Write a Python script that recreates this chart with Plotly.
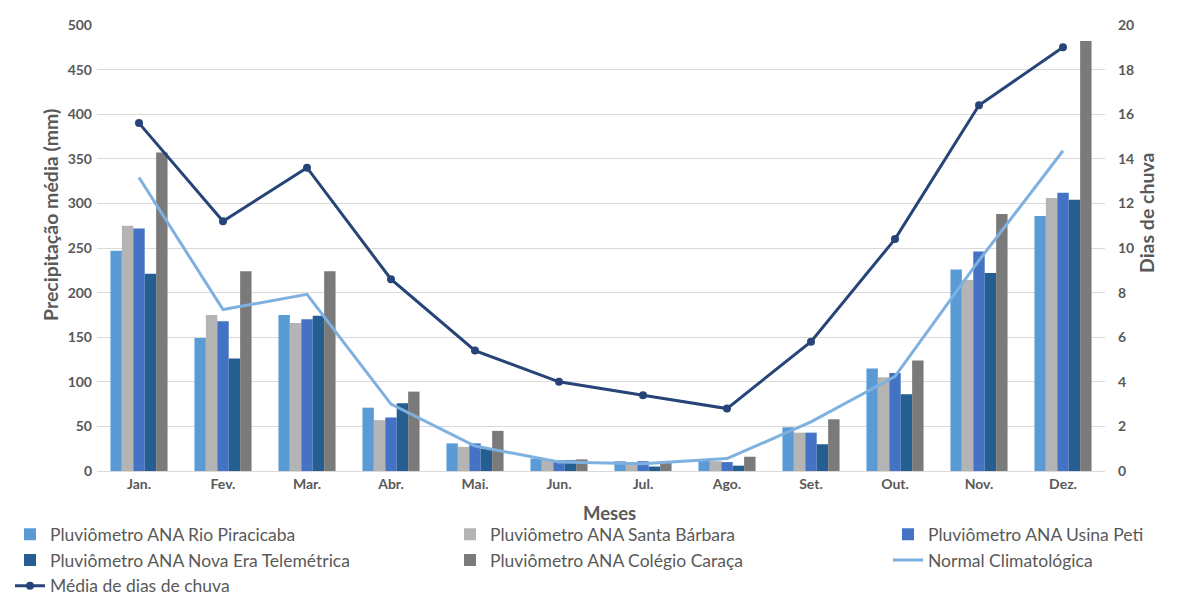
import plotly.graph_objects as go

months = ["Jan.", "Fev.", "Mar.", "Abr.", "Mai.", "Jun.", "Jul.", "Ago.", "Set.", "Out.", "Nov.", "Dez."]

rio_piracicaba = [247, 149, 175, 71, 31, 14, 11, 12, 49, 115, 226, 286]
santa_barbara = [275, 175, 166, 57, 27, 13, 10, 11, 43, 105, 214, 306]
usina_peti = [272, 168, 170, 60, 31, 12, 11, 10, 43, 110, 246, 312]
nova_era = [221, 126, 174, 76, 25, 12, 5, 6, 30, 86, 222, 304]
colegio_caraca = [357, 224, 224, 89, 45, 13, 9, 16, 58, 124, 288, 482]
normal_climatologica = [329, 181, 198, 75, 28, 10, 8, 14, 55, 106, 236, 359]
media_dias_chuva = [15.6, 11.2, 13.6, 8.6, 5.4, 4.0, 3.4, 2.8, 5.8, 10.4, 16.4, 19.0]

FONT = "Lato"
GRAY = "#595959"

fig = go.Figure()

bar_series = [
    ("Pluviômetro ANA Rio Piracicaba", rio_piracicaba, "#5B9BD5", "legend"),
    ("Pluviômetro ANA Santa Bárbara", santa_barbara, "#B4B4B4", "legend2"),
    ("Pluviômetro ANA Usina Peti", usina_peti, "#4472C4", "legend3"),
    ("Pluviômetro ANA Nova Era Telemétrica", nova_era, "#255E91", "legend"),
    ("Pluviômetro ANA Colégio Caraça", colegio_caraca, "#7A7A7A", "legend2"),
]
for name, vals, color, lg in bar_series:
    fig.add_trace(go.Bar(x=months, y=vals, name=name, marker=dict(color=color, line=dict(width=0)),
                         legend=lg, yaxis="y"))

fig.add_trace(go.Scatter(x=months, y=normal_climatologica, name="Normal Climatológica", mode="lines",
                         line=dict(color="#7EB1E0", width=3), legend="legend3", yaxis="y"))
fig.add_trace(go.Scatter(x=months, y=media_dias_chuva, name="Média de dias de chuva", mode="lines+markers",
                         line=dict(color="#264478", width=3), marker=dict(size=8, color="#264478"),
                         legend="legend", yaxis="y2"))

legend_common = dict(orientation="v", xanchor="left", yanchor="top", y=-0.1015,
                     font=dict(family=FONT, size=17.5, color=GRAY), bgcolor="rgba(0,0,0,0)",
                     itemwidth=30, tracegroupgap=0)

title_font = dict(family=FONT, size=19.5, color=GRAY)

fig.update_layout(
    width=1187, height=597,
    margin=dict(l=97, r=82, t=25, b=126, autoexpand=False),
    paper_bgcolor="white", plot_bgcolor="white",
    barmode="group", bargap=0.32, bargroupgap=0,
    font=dict(family=FONT, color=GRAY),
    xaxis=dict(range=[-0.5, 11.5], showgrid=False, showline=True, linecolor="#D9D9D9", linewidth=1,
               tickfont=dict(family=FONT, size=14, color=GRAY, weight="bold"), ticks=""),
    yaxis=dict(range=[0, 500], dtick=50, showgrid=True, gridcolor="#D9D9D9", gridwidth=1,
               zeroline=False, showline=False, ticks="", ticklabelstandoff=4,
               tickfont=dict(family=FONT, size=14, color=GRAY, weight="bold")),
    yaxis2=dict(range=[0, 20], dtick=2, overlaying="y", side="right", showgrid=False,
                zeroline=False, showline=False, ticks="", ticklabelstandoff=12,
                tickfont=dict(family=FONT, size=14, color=GRAY, weight="bold")),
    legend=dict(legend_common, x=(10 - 97) / 1008),
    legend2=dict(legend_common, x=(450 - 97) / 1008),
    legend3=dict(legend_common, x=(888 - 97) / 1008),
    showlegend=True,
    annotations=[
        dict(text="<b>Precipitação média (mm)</b>", xref="paper", yref="paper",
             x=(50 - 97) / 1008, y=(471 - 215) / 446, textangle=-90, showarrow=False,
             font=title_font, xanchor="center", yanchor="middle"),
        dict(text="<b>Dias de chuva</b>", xref="paper", yref="paper",
             x=(1146 - 97) / 1008, y=(471 - 213) / 446, textangle=-90, showarrow=False,
             font=title_font, xanchor="center", yanchor="middle"),
        dict(text="<b>Meses</b>", xref="paper", yref="paper",
             x=(609 - 97) / 1008, y=(471 - 513) / 446, showarrow=False,
             font=dict(family=FONT, size=18.5, color=GRAY), xanchor="center", yanchor="middle"),
    ],
)

fig.write_html("out.html")
